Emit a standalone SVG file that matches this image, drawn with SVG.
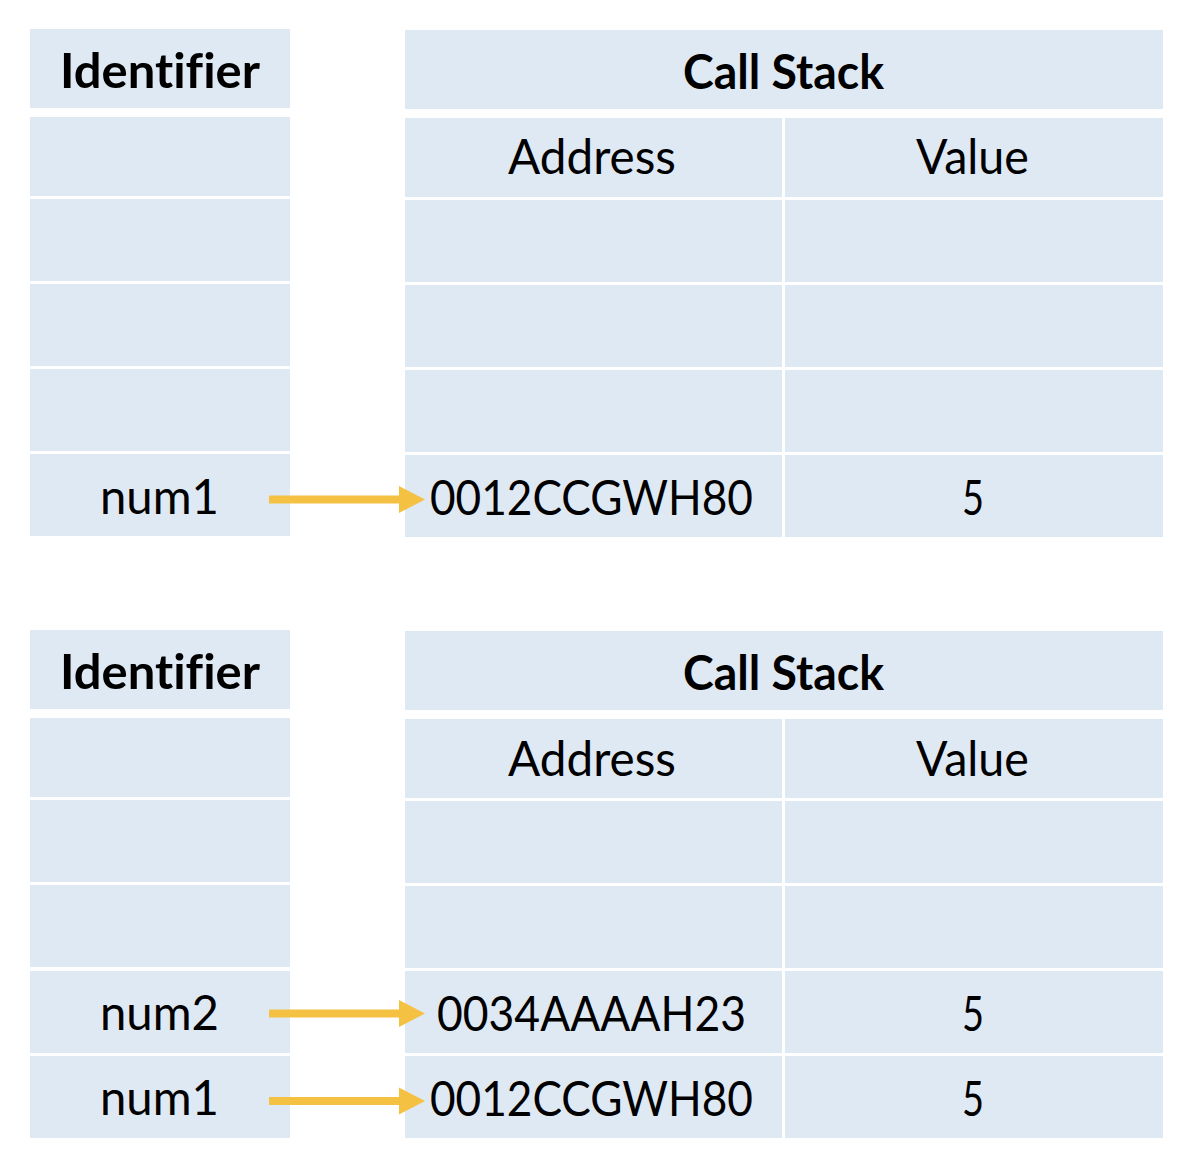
<svg xmlns="http://www.w3.org/2000/svg" width="1188" height="1162" viewBox="0 0 1188 1162">
<style>
.cell{fill:#dfe9f4}
.t{font-family:Lato,"Liberation Sans",sans-serif;font-size:48px;fill:#000;font-variant-ligatures:none}
.b{font-weight:bold}
.arr{stroke:#f5c142;stroke-width:8;fill:none}
</style>
<defs>
<marker id="ah" markerUnits="userSpaceOnUse" markerWidth="26" markerHeight="28" refX="0" refY="13.5" orient="auto" viewBox="0 0 26 27">
<path d="M0,0 L26,13.5 L0,27 Z" fill="#f5c142"/>
</marker>
</defs>
<rect width="1188" height="1162" fill="#fff"/>

<g id="ident1">
<rect class="cell" x="30" y="29" width="260" height="79"/>
<text class="t b" x="60" y="88" textLength="200" lengthAdjust="spacingAndGlyphs">Identifier</text>
<rect class="cell" x="30" y="117" width="260" height="79"/>
<rect class="cell" x="30" y="199" width="260" height="82"/>
<rect class="cell" x="30" y="284" width="260" height="82"/>
<rect class="cell" x="30" y="369" width="260" height="82"/>
<rect class="cell" x="30" y="454" width="260" height="82"/>
<text class="t" x="100" y="514" textLength="119" lengthAdjust="spacingAndGlyphs">num1</text>
</g>

<g id="stack1">
<rect class="cell" x="405" y="30" width="758" height="79"/>
<text class="t b" x="683" y="89" textLength="201" lengthAdjust="spacingAndGlyphs">Call Stack</text>
<rect class="cell" x="405" y="118" width="377" height="79"/>
<rect class="cell" x="785" y="118" width="378" height="79"/>
<text class="t" x="508" y="174" textLength="168" lengthAdjust="spacingAndGlyphs">Address</text>
<text class="t" x="916" y="174" textLength="113" lengthAdjust="spacingAndGlyphs">Value</text>
<rect class="cell" x="405" y="200" width="377" height="82"/>
<rect class="cell" x="785" y="200" width="378" height="82"/>
<rect class="cell" x="405" y="285" width="377" height="82"/>
<rect class="cell" x="785" y="285" width="378" height="82"/>
<rect class="cell" x="405" y="370" width="377" height="82"/>
<rect class="cell" x="785" y="370" width="378" height="82"/>
<rect class="cell" x="405" y="455" width="377" height="82"/>
<rect class="cell" x="785" y="455" width="378" height="82"/>
<text class="t" x="430" y="515" textLength="323" lengthAdjust="spacingAndGlyphs">0012CCGWH80</text>
<text class="t" x="962" y="515" textLength="22" lengthAdjust="spacingAndGlyphs">5</text>
</g>

<g id="ident2">
<rect class="cell" x="30" y="630" width="260" height="79"/>
<text class="t b" x="60" y="689" textLength="200" lengthAdjust="spacingAndGlyphs">Identifier</text>
<rect class="cell" x="30" y="718" width="260" height="79"/>
<rect class="cell" x="30" y="800" width="260" height="82"/>
<rect class="cell" x="30" y="885" width="260" height="82"/>
<rect class="cell" x="30" y="971" width="260" height="82"/>
<text class="t" x="100" y="1030" textLength="119" lengthAdjust="spacingAndGlyphs">num2</text>
<rect class="cell" x="30" y="1056" width="260" height="82"/>
<text class="t" x="100" y="1115" textLength="119" lengthAdjust="spacingAndGlyphs">num1</text>
</g>

<g id="stack2">
<rect class="cell" x="405" y="631" width="758" height="79"/>
<text class="t b" x="683" y="690" textLength="201" lengthAdjust="spacingAndGlyphs">Call Stack</text>
<rect class="cell" x="405" y="719" width="377" height="79"/>
<rect class="cell" x="785" y="719" width="378" height="79"/>
<text class="t" x="508" y="776" textLength="168" lengthAdjust="spacingAndGlyphs">Address</text>
<text class="t" x="916" y="776" textLength="113" lengthAdjust="spacingAndGlyphs">Value</text>
<rect class="cell" x="405" y="801" width="377" height="82"/>
<rect class="cell" x="785" y="801" width="378" height="82"/>
<rect class="cell" x="405" y="886" width="377" height="82"/>
<rect class="cell" x="785" y="886" width="378" height="82"/>
<rect class="cell" x="405" y="971" width="377" height="82"/>
<rect class="cell" x="785" y="971" width="378" height="82"/>
<text class="t" x="437" y="1031" textLength="309" lengthAdjust="spacingAndGlyphs">0034AAAAH23</text>
<text class="t" x="962" y="1031" textLength="22" lengthAdjust="spacingAndGlyphs">5</text>
<rect class="cell" x="405" y="1056" width="377" height="82"/>
<rect class="cell" x="785" y="1056" width="378" height="82"/>
<text class="t" x="430" y="1116" textLength="323" lengthAdjust="spacingAndGlyphs">0012CCGWH80</text>
<text class="t" x="962" y="1116" textLength="22" lengthAdjust="spacingAndGlyphs">5</text>
</g>

<g id="connectors">
<line class="arr" x1="269" y1="499.5" x2="399" y2="499.5" marker-end="url(#ah)"/>
<line class="arr" x1="269" y1="1013.5" x2="399" y2="1013.5" marker-end="url(#ah)"/>
<line class="arr" x1="269" y1="1101" x2="399" y2="1101" marker-end="url(#ah)"/>
</g>
</svg>
